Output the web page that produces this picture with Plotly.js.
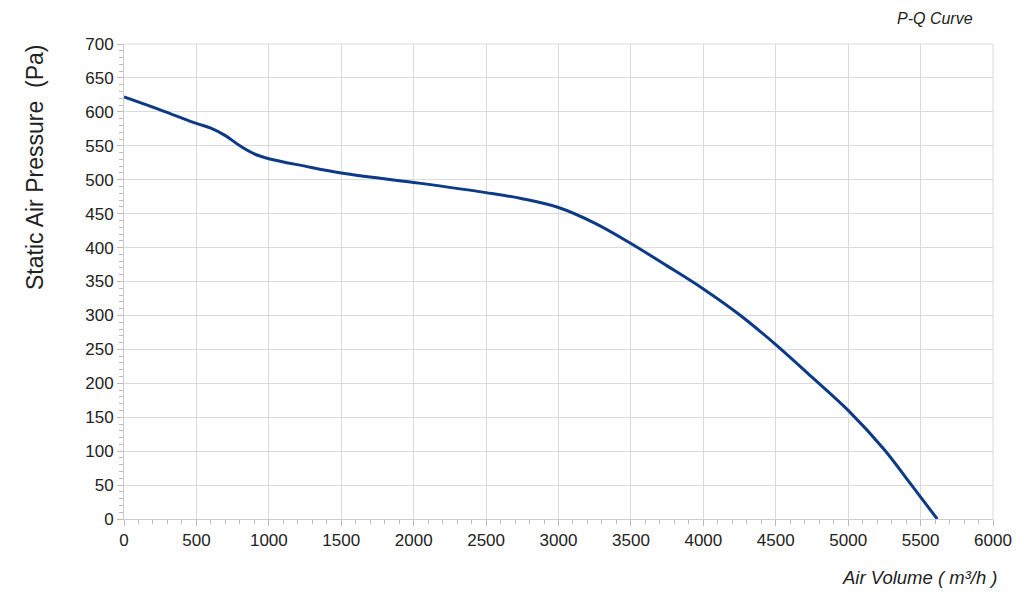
<!DOCTYPE html>
<html>
<head>
<meta charset="utf-8">
<script src="https://cdn.plot.ly/plotly-3.0.1.min.js"></script>
<style>
  html, body { margin: 0; padding: 0; background: #fff; }
  #chart { width: 1024px; height: 611px; }
</style>
</head>
<body>
<div id="chart"></div>
<script>
// Air volume (m3/h) and static pressure (Pa).
const airVolume = [0, 250, 500, 600, 700, 800, 900, 1000, 1250, 1500, 2000, 2500, 2750, 3000, 3250, 3500, 3750, 4000, 4250, 4500, 4750, 5000, 5250, 5430, 5615];
const pressure = [622, 603, 583, 576, 565, 550, 538, 531, 520, 510, 496, 481, 472, 459, 436, 406, 373, 339, 301, 257, 209, 160, 102, 52, 0];

const xTicks = [0, 500, 1000, 1500, 2000, 2500, 3000, 3500, 4000, 4500, 5000, 5500, 6000];
const yTicks = [0, 50, 100, 150, 200, 250, 300, 350, 400, 450, 500, 550, 600, 650, 700];

const fontFamily = 'Liberation Sans, Arial, sans-serif';
const tickFont = { family: fontFamily, size: 17, color: '#222' };

const data = [{
  x: airVolume,
  y: pressure,
  mode: 'lines',
  line: { color: '#0c3a86', width: 3, shape: 'spline', smoothing: 1 },
  hoverinfo: 'x+y'
}];

const layout = {
  width: 1024,
  height: 611,
  margin: { l: 124, r: 31, t: 44, b: 92 },
  paper_bgcolor: '#fff',
  plot_bgcolor: '#fff',
  showlegend: false,
  xaxis: {
    range: [0, 6000],
    tickmode: 'array',
    tickvals: xTicks,
    tickfont: tickFont,
    ticks: 'outside',
    ticklen: 6,
    tickcolor: '#bbb',
    showline: true,
    linecolor: '#ccc',
    gridcolor: '#dadada',
    zeroline: false,
    minor: { dtick: 100, ticks: 'outside', ticklen: 4, tickcolor: '#bbb', showgrid: false }
  },
  yaxis: {
    range: [0, 700],
    tickmode: 'array',
    tickvals: yTicks,
    tickfont: tickFont,
    ticks: 'outside',
    ticklen: 6,
    tickcolor: '#bbb',
    showline: true,
    linecolor: '#ccc',
    gridcolor: '#dadada',
    zeroline: false,
    minor: { dtick: 10, ticks: 'outside', ticklen: 4, tickcolor: '#bbb', showgrid: false }
  },
  shapes: [
    // right and top border of the grid
    { type: 'line', xref: 'paper', yref: 'paper', x0: 1, x1: 1, y0: 0, y1: 1, line: { color: '#dadada', width: 1 } },
    { type: 'line', xref: 'paper', yref: 'paper', x0: 0, x1: 1, y0: 1, y1: 1, line: { color: '#dadada', width: 1 } }
  ],
  annotations: [
    {
      text: 'Static Air Pressure  (Pa)',
      xref: 'paper', yref: 'paper',
      x: 0, y: 0.739,
      xanchor: 'center', yanchor: 'middle',
      xshift: -89,
      textangle: -90,
      showarrow: false,
      font: { family: fontFamily, size: 23, color: '#222' }
    },
    {
      text: '<i>Air Volume ( m³/h )</i>',
      xref: 'paper', yref: 'paper',
      x: 1, y: 0,
      xanchor: 'right', yanchor: 'middle',
      xshift: 7, yshift: -58,
      showarrow: false,
      font: { family: fontFamily, size: 18.5, color: '#222' }
    },
    {
      text: '<i>P-Q Curve</i>',
      xref: 'paper', yref: 'paper',
      x: 1, y: 1,
      xanchor: 'right', yanchor: 'middle',
      xshift: -18, yshift: 26,
      showarrow: false,
      font: { family: fontFamily, size: 16, color: '#222' }
    }
  ]
};

Plotly.newPlot('chart', data, layout, { displayModeBar: false, staticPlot: true });
</script>
</body>
</html>
